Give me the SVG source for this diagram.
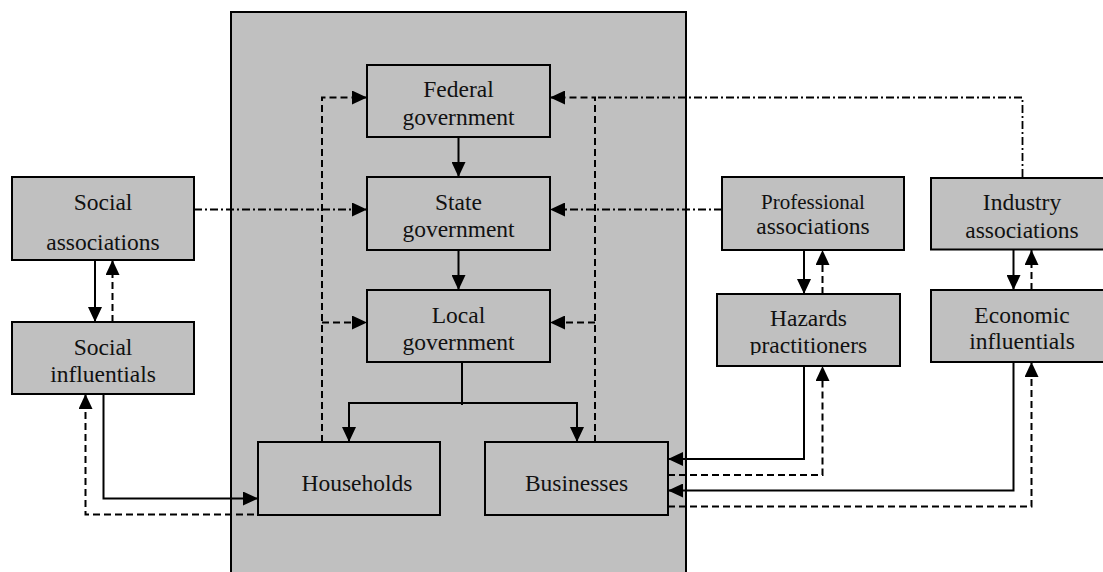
<svg xmlns="http://www.w3.org/2000/svg" width="1103" height="572" viewBox="0 0 1103 572">
<style>
.box{fill:#c0c0c0;stroke:#000;stroke-width:2}
.t{font-family:"Liberation Serif","Times New Roman",serif;font-size:23.5px;fill:#111;text-anchor:middle}
.s{fill:none;stroke:#000;stroke-width:2}
.d{fill:none;stroke:#000;stroke-width:2;stroke-dasharray:7,4}
.dd{fill:none;stroke:#000;stroke-width:1.8;stroke-dasharray:8,3,2,3}
</style>
<defs>
<marker id="a" markerUnits="userSpaceOnUse" markerWidth="15" markerHeight="14" refX="15" refY="7" orient="auto">
<path d="M0,0 L15,7 L0,14 z" fill="#000"/>
</marker>
<clipPath id="c1"><rect x="12" y="177" width="182" height="73"/></clipPath>
<clipPath id="c2"><rect x="717" y="294" width="183" height="61"/></clipPath>
</defs>
<rect id="panel" x="231" y="12" width="455" height="580" fill="#c0c0c0" stroke="#000" stroke-width="2"/>
<g id="connectors">
<path class="s" d="M458.5,137 V177" marker-end="url(#a)"/>
<path class="s" d="M458.5,250 V290" marker-end="url(#a)"/>
<path class="s" d="M462,362 V405"/>
<path class="s" d="M462,403 H349 V442" marker-end="url(#a)"/>
<path class="s" d="M462,403 H577 V442" marker-end="url(#a)"/>
<path class="d" d="M322,442 V97.5 H367" marker-end="url(#a)"/>
<path class="d" d="M322,322.5 H367" marker-end="url(#a)"/>
<path class="d" d="M595,442 V97.5 H550" marker-end="url(#a)"/>
<path class="d" d="M595,322.5 H550" marker-end="url(#a)"/>
<path class="dd" d="M1022.5,177 V97.5 H595"/>
<path class="dd" d="M194,209.5 H367" marker-end="url(#a)"/>
<path class="dd" d="M722,209.5 H550" marker-end="url(#a)"/>
<path class="s" d="M95,260 V322" marker-end="url(#a)"/>
<path class="d" d="M112.5,322 V260" marker-end="url(#a)"/>
<path class="s" d="M103.5,394 V498.5 H258" marker-end="url(#a)"/>
<path class="d" d="M254,514.5 H85.5 V394" marker-end="url(#a)"/>
<path class="s" d="M804,250 V294" marker-end="url(#a)"/>
<path class="d" d="M822.5,294 V250" marker-end="url(#a)"/>
<path class="s" d="M1013.5,250 V290" marker-end="url(#a)"/>
<path class="d" d="M1031.5,290 V250" marker-end="url(#a)"/>
<path class="s" d="M804,366 V459 H668" marker-end="url(#a)"/>
<path class="d" d="M668,475 H822.5 V366" marker-end="url(#a)"/>
<path class="s" d="M1013.5,362 V490.5 H668" marker-end="url(#a)"/>
<path class="d" d="M668,506.5 H1031.5 V362" marker-end="url(#a)"/>
</g>
<g id="federal"><rect class="box" x="367" y="65" width="183" height="72"/><text class="t" x="458.5" y="97">Federal</text><text class="t" x="458.5" y="125">government</text></g>
<g id="state"><rect class="box" x="367" y="177" width="183" height="73"/><text class="t" x="458.5" y="209.5">State</text><text class="t" x="458.5" y="237">government</text></g>
<g id="local"><rect class="box" x="367" y="290" width="183" height="72"/><text class="t" x="458.5" y="323">Local</text><text class="t" x="458.5" y="350">government</text></g>
<g id="households"><rect class="box" x="258" y="442" width="182" height="73"/><text class="t" x="357" y="490.5">Households</text></g>
<g id="businesses"><rect class="box" x="485" y="442" width="183" height="73"/><text class="t" x="576.5" y="490.5">Businesses</text></g>
<g id="social-associations"><rect class="box" x="12" y="177" width="182" height="83"/><text class="t" x="103" y="210">Social</text><text class="t" x="103" y="250" clip-path="url(#c1)">associations</text></g>
<g id="social-influentials"><rect class="box" x="12" y="322" width="182" height="72"/><text class="t" x="103" y="354.5">Social</text><text class="t" x="103" y="381.5">influentials</text></g>
<g id="professional-associations"><rect class="box" x="722" y="177" width="182" height="73"/><text class="t" x="813" y="208.5" style="font-size:21px">Professional</text><text class="t" x="813" y="233.5">associations</text></g>
<g id="industry-associations"><rect class="box" x="931" y="178" width="182" height="71.5"/><text class="t" x="1022" y="210">Industry</text><text class="t" x="1022" y="237.5">associations</text></g>
<g id="hazards-practitioners"><rect class="box" x="717" y="294" width="183" height="72"/><text class="t" x="808.5" y="325.5">Hazards</text><text class="t" x="808.5" y="352.5" clip-path="url(#c2)">practitioners</text></g>
<g id="economic-influentials"><rect class="box" x="931" y="290" width="182" height="72"/><text class="t" x="1022" y="322.5">Economic</text><text class="t" x="1022" y="349">influentials</text></g>
</svg>
